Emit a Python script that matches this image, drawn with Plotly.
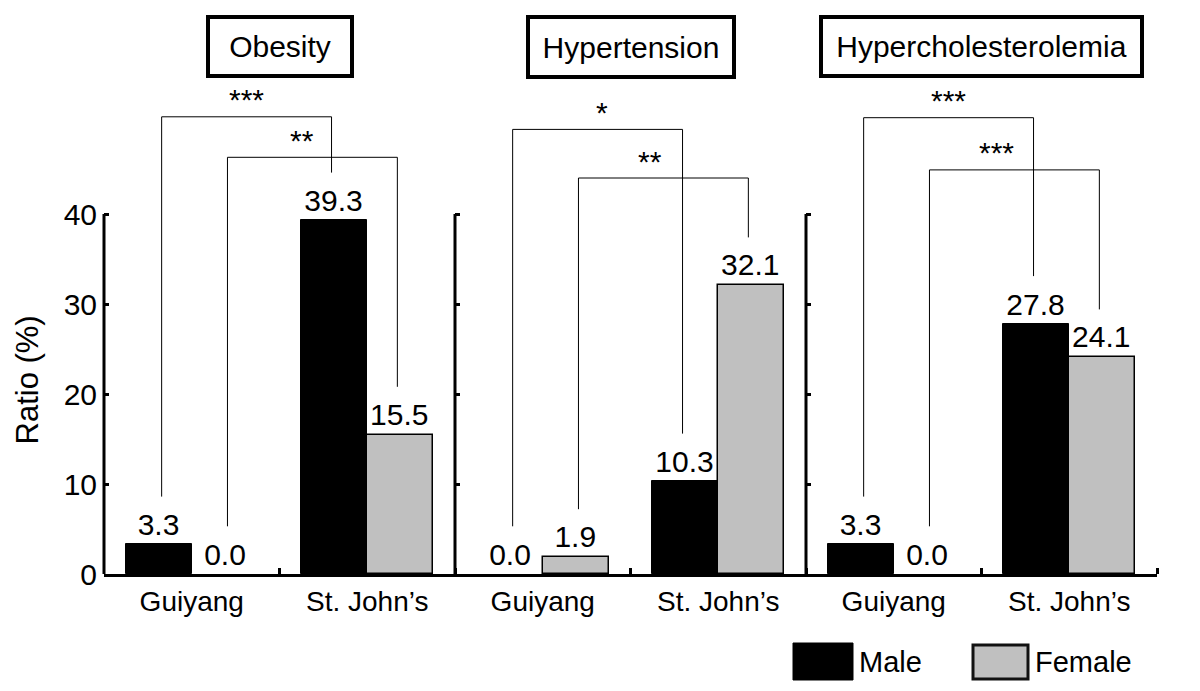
import plotly.graph_objects as go
from plotly.subplots import make_subplots

# values
conditions = ["Obesity", "Hypertension", "Hypercholesterolemia"]
cities = ["Guiyang", "St. John’s"]
male_ratio = [[3.3, 39.3], [0.0, 10.3], [3.3, 27.8]]
female_ratio = [[0.0, 15.5], [1.9, 32.1], [0.0, 24.1]]
sig_male = ["***", "*", "***"]
sig_female = ["**", "**", "***"]
y_ticks = [0, 10, 20, 30, 40]

FONT = "Liberation Sans, Arial, sans-serif"
GREY = "#c0c0c0"
BAR_W = 0.375

# page has an 8px body margin, so the figure is drawn 8px in from the corner
W, H = 1192, 683
L, R, T, B = 96, 43, 98, 117
PW, PH = W - L - R, H - T - B


def px_x(p):
    return (p - 8 - L) / PW


def px_y(p):
    return (H - B - (p - 8)) / PH


# bracket styling
top_male = [50.8, 49.4, 50.7]
top_female = [46.3, 44.0, 44.9]
star_dx_male = [0, 4, 0]
star_dx_female = [-10, -13, -18]
box_w = [148, 210, 325]
box_h = [63, 64, 63]
leg_gap = 5.3
inset = 0.016

fig = make_subplots(rows=1, cols=3, horizontal_spacing=0)
xpos = [0, 1]

for k in range(3):
    col = k + 1
    fig.add_trace(go.Bar(
        x=xpos, y=male_ratio[k], width=BAR_W, offset=-BAR_W, name="Male",
        marker=dict(color="black",
                    line=dict(color="black", width=[0 if v == 0 else 1 for v in male_ratio[k]])),
        text=[f"{v:.1f}" for v in male_ratio[k]], textposition="outside",
        constraintext="none", cliponaxis=False,
        textfont=dict(size=30, color="black", family=FONT), showlegend=False,
    ), row=1, col=col)
    fig.add_trace(go.Bar(
        x=xpos, y=female_ratio[k], width=BAR_W, offset=0, name="Female",
        marker=dict(color=GREY,
                    line=dict(color="black", width=[0 if v == 0 else 1.5 for v in female_ratio[k]])),
        text=[f"{v:.1f}" for v in female_ratio[k]], textposition="outside",
        constraintext="none", cliponaxis=False,
        textfont=dict(size=30, color="black", family=FONT), showlegend=False,
    ), row=1, col=col)

domains = [[0, 1 / 3], [1 / 3, 2 / 3], [2 / 3, 1]]
for k in range(3):
    sx = "" if k == 0 else str(k + 1)
    fig.update_layout({
        f"xaxis{sx}": dict(
            domain=domains[k], range=[-0.5, 1.5], tickvals=xpos, ticktext=cities,
            ticks="", showline=True, linewidth=3, linecolor="black",
            showgrid=False, zeroline=False,
            tickfont=dict(size=28, family=FONT, color="black"),
            minor=dict(tickvals=[0.5, 1.5], ticks="inside", ticklen=6,
                       tickwidth=3, tickcolor="black"),
        ),
        f"yaxis{sx}": dict(
            range=[0, 52], tickvals=y_ticks, ticks="inside", ticklen=5,
            tickwidth=3, tickcolor="black", showline=False, showgrid=False,
            zeroline=False, showticklabels=(k == 0), ticklabelstandoff=6,
            tickfont=dict(size=30, family=FONT, color="black"),
        ),
    })

    # y spine only up to the top tick
    fig.add_shape(type="line", xref="paper", yref=f"y{sx}",
                  x0=domains[k][0], x1=domains[k][0], y0=0, y1=max(y_ticks),
                  line=dict(color="black", width=3))

    # significance brackets: same sex, Guiyang vs St. John's
    for vals, sig, top, dx, off in (
        (male_ratio[k], sig_male[k], top_male[k], star_dx_male[k], -BAR_W / 2),
        (female_ratio[k], sig_female[k], top_female[k], star_dx_female[k], BAR_W / 2),
    ):
        xl = xpos[0] + off + inset
        xr = xpos[1] + off - inset
        yl = vals[0] + leg_gap
        yr = vals[1] + leg_gap
        fig.add_shape(type="path", xref=f"x{sx}", yref=f"y{sx}",
                      path=f"M {xl},{yl} L {xl},{top} L {xr},{top} L {xr},{yr}",
                      line=dict(color="black", width=1))
        fig.add_annotation(xref=f"x{sx}", yref=f"y{sx}", x=(xl + xr) / 2, y=top,
                           text=sig, showarrow=False, yanchor="middle",
                           yshift=17, xshift=dx,
                           font=dict(size=30, family=FONT, color="black"))

    # boxed panel title
    fig.add_annotation(xref=f"x{sx} domain", yref="paper", x=0.5, y=px_y(46.5),
                       text=conditions[k], showarrow=False, yanchor="middle",
                       width=box_w[k] - 8, height=box_h[k] - 8,
                       bordercolor="black", borderwidth=4, borderpad=0,
                       font=dict(size=30, family=FONT, color="black"))

# y title
fig.add_annotation(xref="paper", yref="paper", x=px_x(27.5), y=px_y(380),
                   text="Ratio (%)", textangle=-90, showarrow=False,
                   xanchor="center", yanchor="middle",
                   font=dict(size=31, family=FONT, color="black"))

# legend swatches
fig.add_shape(type="rect", xref="paper", yref="paper",
              x0=px_x(793), x1=px_x(853), y0=px_y(680), y1=px_y(643),
              fillcolor="black", line=dict(color="black", width=1))
fig.add_shape(type="rect", xref="paper", yref="paper",
              x0=px_x(973), x1=px_x(1028), y0=px_y(679), y1=px_y(645),
              fillcolor=GREY, line=dict(color="#111111", width=3))
fig.add_annotation(xref="paper", yref="paper", x=px_x(857), y=px_y(662),
                   text="Male", showarrow=False, xanchor="left", yanchor="middle",
                   font=dict(size=29, family=FONT, color="black"))
fig.add_annotation(xref="paper", yref="paper", x=px_x(1033), y=px_y(662),
                   text="Female", showarrow=False, xanchor="left", yanchor="middle",
                   font=dict(size=29, family=FONT, color="black"))

fig.update_layout(
    width=W, height=H,
    margin=dict(l=L, r=R, t=T, b=B),
    paper_bgcolor="white", plot_bgcolor="white",
    bargap=0, showlegend=False,
    font=dict(family=FONT, color="black"),
)

fig.write_html("out.html")
